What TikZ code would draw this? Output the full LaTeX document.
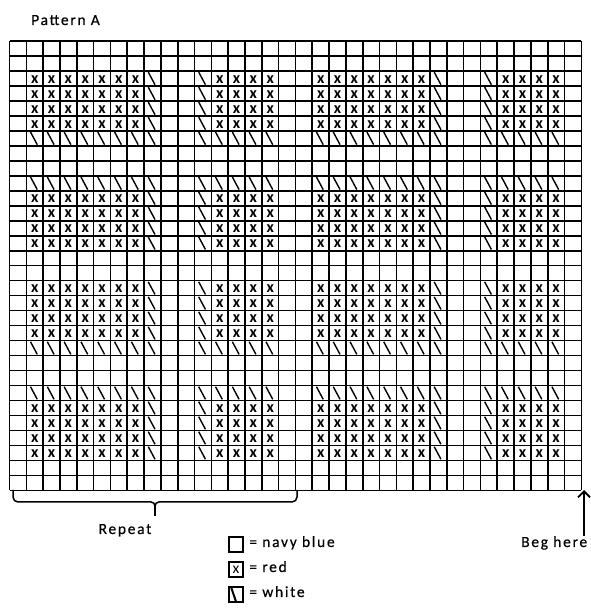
\documentclass[tikz,border=0pt]{standalone}
\usepackage{fontspec}
\setmainfont{Carlito}[LetterSpace=11,FakeBold=0.4]
\newfontfamily\cellfont{Carlito}
\usetikzlibrary{arrows.meta,positioning}
\begin{document}
\begin{tikzpicture}[x=1pt,y=1pt,font=\fontsize{15.5}{18}\selectfont,
  gridline/.style={line width=1.6pt},
  redst/.style={font=\cellfont\fontsize{16}{16}\selectfont\bfseries,inner sep=0pt},
  whitest/.style={line width=1.4pt},
  keybox/.style={draw,line width=1.8pt,minimum size=14.5pt,inner sep=0pt},
  keytext/.style={inner sep=0pt,anchor=base west}]
\useasboundingbox (0,0) rectangle (590,612);
\node[anchor=base west,inner sep=0pt] (title) at (31,587) {Pattern A};
\begin{scope}[shift={(9.5,571)},x=16.82pt,y=-14.98pt]
\foreach \c in {0,...,34} \draw[gridline] (\c,0) -- (\c,30);
\foreach \r in {0,...,30} \draw[gridline] (0,\r) -- (34,\r);
\foreach \o in {0,17} {
  \foreach \r in {2,3,4,5,10,11,12,13,16,17,18,19,24,25,26,27} {
    \foreach \c in {1,2,3,4,5,6,7,12,13,14,15}
      \node[redst] (x-\o-\r-\c) at (\o+\c+.5,\r+.55) {x};
    \foreach \c in {8,11}
      \draw[whitest] (\o+\c+.25,\r+.08) -- (\o+\c+.65,\r+.92);
  }
  \foreach \r in {6,9,20,23}
    \foreach \c in {1,2,3,4,5,6,7,8,11,12,13,14,15}
      \draw[whitest] (\o+\c+.25,\r+.08) -- (\o+\c+.65,\r+.92);
}
\end{scope}
\draw[line width=1.5pt] (13,122) -- (13,115) arc[start angle=180,end angle=270,radius=5] -- (151,110) arc[start angle=90,end angle=0,radius=4];
\draw[line width=1.5pt] (297,122) -- (297,115) arc[start angle=0,end angle=-90,radius=5] -- (159,110) arc[start angle=90,end angle=180,radius=4];
\draw[line width=2.6pt] (155,107) -- (155,96);
\node[anchor=base,inner sep=0pt] (rep) at (125,78) {Repeat};
\coordinate (begin) at (584,122);
\node[anchor=base west,inner sep=0pt] (beg) at (521,65) {Beg here};
\draw[line width=1.8pt,-{Straight Barb[length=6pt,width=12pt]}] (begin |- beg.north) -- (begin);
\node[keybox] (navy) at (236,67.5) {};
\node[keytext] (navytxt) at ([xshift=5pt,yshift=-2.5pt]navy.east) {= navy blue};
\node[keybox,font=\cellfont\fontsize{15.5}{15.5}\selectfont] (red) at (236,42.5) {x};
\node[keytext] (redtxt) at ([xshift=5pt,yshift=-2.5pt]red.east) {= red};
\node[keybox] (white) at (236,17.5) {};
\draw[line width=2pt] ([xshift=3.5pt,yshift=-1.5pt]white.north west) -- ([xshift=8pt,yshift=1.5pt]white.south west);
\node[keytext] (whitetxt) at ([xshift=5pt,yshift=-2.5pt]white.east) {= white};
\end{tikzpicture}
\end{document}
